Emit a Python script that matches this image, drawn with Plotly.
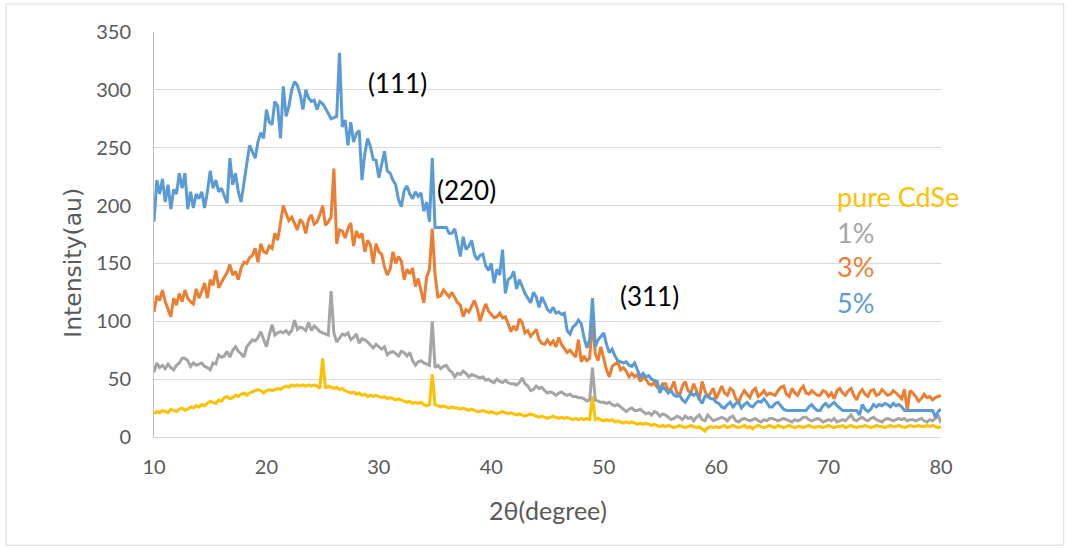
import numpy as np
import plotly.graph_objects as go

# 2-theta scan grid (degrees), step 0.25
two_theta = np.arange(0, 281) * 0.25 + 10.0

series_names = ["pure CdSe", "1%", "3%", "5%"]
series_colors = ["#FFC000", "#A5A5A5", "#ED7D31", "#5B9BD5"]

pure_cdse = [
    20, 22, 21, 23, 22, 21, 24, 23, 22, 24, 25, 23, 24, 26, 25, 27, 26, 28, 27, 29,
    31, 30, 29, 32, 31, 34, 35, 33, 34, 36, 35, 37, 38, 36, 38, 39, 40, 41, 40, 38,
    40, 41, 40, 41, 42, 41, 43, 44, 43, 45, 44, 45, 44, 45, 44, 45, 44, 45, 44, 42,
    68, 42, 44, 43, 42, 43, 41, 42, 40, 39, 38, 39, 37, 38, 36, 37, 35, 36, 35, 36,
    35, 34, 35, 33, 34, 33, 32, 33, 32, 31, 30, 31, 29, 30, 29, 30, 28, 27, 28, 54,
    28, 27, 26, 27, 26, 25, 26, 25, 25, 24, 25, 24, 23, 24, 23, 22, 22, 23, 22, 21,
    22, 21, 20, 21, 22, 21, 20, 21, 20, 19, 20, 19, 18, 19, 20, 19, 18, 17, 18, 17,
    16, 17, 18, 17, 16, 17, 16, 17, 16, 15, 16, 15, 16, 15, 16, 15, 35, 15, 16, 15,
    14, 15, 14, 15, 13, 14, 13, 12, 13, 12, 13, 12, 11, 12, 11, 12, 11, 10, 11, 10,
    9, 10, 9, 10, 9, 8, 9, 10, 9, 8, 9, 10, 9, 8, 9, 7, 5, 8, 9, 8,
    9, 8, 9, 10, 8, 9, 10, 9, 8, 9, 10, 8, 9, 7, 9, 10, 9, 8, 9, 10,
    9, 8, 10, 9, 8, 9, 10, 9, 8, 9, 9, 8, 9, 10, 9, 8, 9, 9, 8, 9,
    10, 9, 8, 9, 9, 10, 8, 9, 10, 9, 8, 9, 9, 10, 9, 8, 9, 10, 9, 9,
    8, 9, 10, 9, 9, 10, 9, 8, 9, 10, 9, 9, 10, 9, 9, 10, 9, 10, 9, 8,
    9,
]

pct1 = [
    56, 64, 60, 62, 59, 63, 60, 58, 62, 64, 68, 68, 66, 61, 64, 62, 63, 64, 61, 60,
    58, 64, 63, 71, 69, 70, 74, 69, 75, 78, 74, 72, 69, 78, 81, 84, 83, 86, 91, 85,
    78, 88, 97, 88, 90, 91, 90, 92, 89, 92, 101, 93, 95, 94, 92, 99, 92, 96, 94, 91,
    90, 89, 88, 126, 90, 82, 85, 89, 88, 90, 84, 86, 89, 81, 85, 84, 82, 79, 77, 80,
    78, 76, 78, 71, 73, 74, 72, 70, 74, 73, 70, 73, 66, 62, 65, 66, 64, 63, 62, 100,
    60, 62, 59, 61, 62, 58, 56, 52, 55, 54, 57, 55, 52, 54, 53, 52, 51, 52, 49, 50,
    48, 47, 50, 48, 47, 49, 47, 46, 46, 45, 47, 51, 46, 44, 40, 41, 44, 42, 43, 40,
    38, 39, 38, 36, 38, 39, 37, 36, 37, 35, 35, 34, 34, 33, 31, 32, 60, 32, 31, 30,
    30, 29, 30, 28, 27, 28, 26, 24, 22, 24, 25, 23, 23, 24, 22, 20, 21, 19, 22, 21,
    18, 20, 19, 17, 15, 16, 18, 17, 15, 18, 16, 17, 14, 17, 19, 15, 14, 19, 16, 14,
    15, 16, 17, 16, 14, 17, 18, 14, 13, 15, 16, 15, 14, 15, 16, 14, 13, 15, 14, 16,
    16, 15, 14, 15, 16, 15, 14, 13, 15, 14, 15, 17, 17, 15, 14, 15, 16, 15, 13, 14,
    15, 14, 16, 13, 14, 15, 14, 17, 19, 15, 14, 16, 17, 15, 14, 16, 17, 15, 14, 13,
    15, 16, 15, 14, 15, 16, 15, 16, 14, 15, 15, 14, 15, 16, 14, 13, 15, 14, 16, 19,
    12,
]

pct3 = [
    108, 122, 118, 127, 117, 110, 104, 120, 114, 124, 117, 127, 120, 117, 115, 128, 120, 126, 133, 120,
    136, 131, 144, 129, 134, 138, 142, 149, 140, 143, 136, 146, 151, 150, 155, 157, 163, 151, 167, 160,
    159, 165, 163, 176, 170, 186, 200, 193, 187, 190, 185, 179, 188, 185, 176, 188, 192, 184, 186, 192,
    200, 183, 186, 190, 232, 167, 179, 178, 172, 180, 185, 165, 178, 172, 176, 160, 170, 166, 150, 167,
    160, 158, 147, 140, 145, 160, 150, 156, 152, 136, 145, 141, 146, 130, 137, 126, 116, 138, 145, 180,
    140, 121, 122, 127, 124, 121, 125, 120, 116, 114, 104, 110, 108, 113, 118, 111, 100, 108, 115, 109,
    106, 103, 104, 107, 103, 104, 98, 91, 96, 92, 102, 99, 90, 92, 87, 90, 93, 84, 81, 80,
    84, 80, 83, 78, 86, 80, 76, 73, 75, 72, 69, 84, 65, 70, 66, 68, 100, 72, 66, 78,
    69, 58, 52, 61, 63, 65, 58, 60, 57, 52, 55, 52, 54, 48, 52, 50, 46, 45, 47, 43,
    42, 46, 46, 40, 42, 48, 38, 36, 44, 48, 40, 38, 46, 40, 32, 48, 40, 34, 38, 42,
    33, 38, 44, 38, 36, 42, 40, 33, 30, 36, 40, 37, 34, 40, 42, 35, 37, 40, 36, 38,
    37, 36, 40, 43, 44, 37, 35, 42, 38, 36, 41, 44, 38, 37, 40, 38, 36, 36, 40, 39,
    35, 38, 33, 40, 42, 38, 36, 40, 42, 36, 32, 38, 41, 37, 35, 40, 41, 36, 37, 41,
    38, 36, 37, 40, 38, 35, 33, 41, 23, 40, 38, 35, 31, 33, 37, 34, 35, 32, 34, 35,
    36,
]

pct5 = [
    186, 222, 210, 223, 203, 218, 197, 214, 210, 228, 215, 228, 197, 212, 198, 210, 206, 212, 198, 212,
    230, 215, 222, 212, 215, 208, 202, 241, 218, 228, 212, 203, 222, 236, 252, 246, 241, 255, 263, 258,
    283, 272, 270, 290, 286, 258, 303, 277, 286, 300, 307, 304, 296, 283, 300, 293, 290, 291, 283, 290,
    288, 284, 280, 275, 276, 277, 332, 268, 274, 252, 272, 255, 262, 265, 222, 245, 258, 251, 240, 239,
    224, 235, 247, 230, 228, 222, 218, 205, 199, 213, 217, 210, 206, 212, 208, 211, 195, 203, 186, 241,
    181, 181, 181, 181, 181, 176, 176, 180, 168, 156, 173, 162, 165, 170, 158, 153, 157, 158, 148, 144,
    150, 133, 145, 140, 162, 124, 136, 138, 143, 128, 136, 130, 124, 120, 116, 125, 121, 112, 121, 116,
    110, 108, 112, 107, 108, 106, 107, 92, 89, 95, 97, 101, 98, 86, 77, 84, 120, 78, 84, 87,
    90, 80, 73, 76, 70, 66, 65, 64, 65, 62, 61, 64, 58, 52, 55, 52, 53, 50, 49, 48,
    38, 44, 41, 38, 40, 36, 35, 36, 32, 30, 34, 38, 36, 38, 33, 29, 35, 36, 33, 33,
    30, 29, 26, 25, 28, 30, 26, 29, 30, 25, 28, 30, 27, 26, 29, 31, 30, 33, 30, 26,
    26, 29, 30, 27, 24, 23, 23, 23, 23, 23, 23, 23, 23, 26, 28, 25, 23, 23, 27, 29,
    26, 28, 30, 27, 25, 23, 23, 23, 23, 23, 23, 19, 28, 24, 22, 24, 28, 26, 28, 27,
    29, 28, 26, 29, 27, 28, 26, 23, 23, 23, 23, 23, 23, 23, 23, 23, 23, 23, 17, 22,
    24,
]

peak_labels = ["(111)", "(220)", "(311)"]
x_ticks = [10, 20, 30, 40, 50, 60, 70, 80]
y_ticks = [0, 50, 100, 150, 200, 250, 300, 350]

FONT = "Lato"
TICK_COLOR = "#595959"

fig = go.Figure()
for name, color, vals in zip(series_names, series_colors, [pure_cdse, pct1, pct3, pct5]):
    fig.add_trace(go.Scatter(x=two_theta, y=vals, mode="lines", name=name,
                             line=dict(color=color, width=3), showlegend=False))

fig.update_layout(
    width=1068, height=548,
    margin=dict(l=154, r=127, t=32, b=111),
    paper_bgcolor="white", plot_bgcolor="white",
    font=dict(family=FONT, color=TICK_COLOR),
)
fig.update_xaxes(range=[10, 80], tickvals=x_ticks, showgrid=False, zeroline=False,
                 showline=True, linecolor="#D9D9D9", linewidth=1,
                 ticks="", ticklabelstandoff=12,
                 tickfont=dict(size=20, color=TICK_COLOR, family=FONT))
fig.update_yaxes(range=[0, 350], tickvals=y_ticks, showgrid=True, gridcolor="#D9D9D9",
                 gridwidth=1, zeroline=False, showline=True, linecolor="#BFBFBF",
                 linewidth=1, ticks="", ticklabelstandoff=18,
                 tickfont=dict(size=20, color=TICK_COLOR, family=FONT))

annotations = []
# axis titles
annotations.append(dict(text="2θ(degree)", xref="paper", yref="paper", x=0.5006, y=-0.180,
                        showarrow=False, font=dict(size=25, color=TICK_COLOR, family=FONT),
                        xanchor="center", yanchor="middle"))
annotations.append(dict(text="Intensity(au)", xref="paper", yref="paper", x=-0.103, y=0.43,
                        showarrow=False, textangle=-90,
                        font=dict(size=23.5, color=TICK_COLOR, family="DejaVu Sans"),
                        xanchor="center", yanchor="middle"))
# peak labels
for label, px, py in zip(peak_labels, [0.270, 0.357, 0.590], [0.874, 0.610, 0.348]):
    annotations.append(dict(text=label, xref="paper", yref="paper", x=px, y=py,
                            showarrow=False, xanchor="left", yanchor="middle",
                            font=dict(size=26, color="black", family=FONT)))
# series labels (in place of legend)
for name, color, py in zip(series_names, series_colors, [0.595, 0.506, 0.420, 0.333]):
    annotations.append(dict(text=name, xref="paper", yref="paper", x=0.8650, y=py,
                            showarrow=False, xanchor="left", yanchor="middle",
                            font=dict(size=27, color=color, family=FONT)))
fig.update_layout(annotations=annotations)

# outer chart frame
fig.add_shape(type="rect", xref="paper", yref="paper",
              x0=-0.188, x1=1.156, y0=-0.267, y1=1.069,
              line=dict(color="#D9D9D9", width=1), fillcolor="rgba(0,0,0,0)", layer="below")

fig.write_html("out.html")
